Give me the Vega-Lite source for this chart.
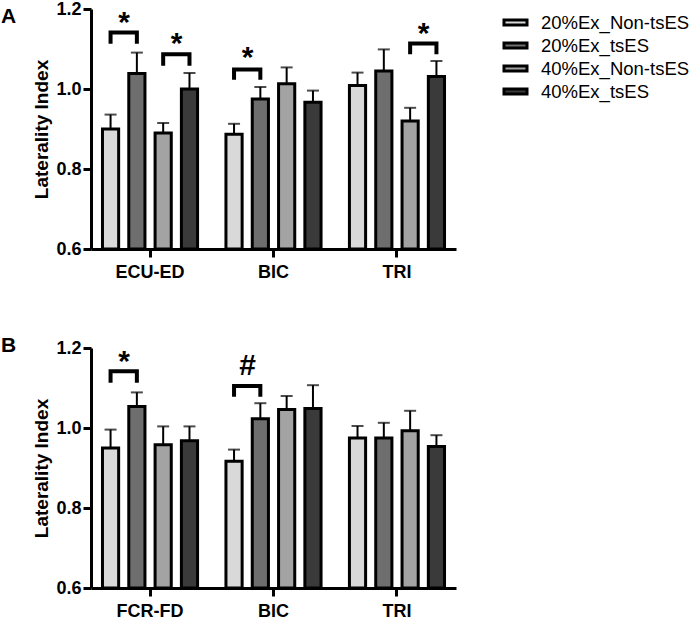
{
  "$schema": "https://vega.github.io/schema/vega-lite/v6.json",
  "padding": {"left": 0, "top": 0, "right": 5, "bottom": 5},
  "datasets": {
    "barsA": [
      {"g": "ECU-ED", "c": "20%Ex_Non-tsES", "m": 0.900, "u": 0.936},
      {"g": "ECU-ED", "c": "20%Ex_tsES", "m": 1.039, "u": 1.091},
      {"g": "ECU-ED", "c": "40%Ex_Non-tsES", "m": 0.890, "u": 0.915},
      {"g": "ECU-ED", "c": "40%Ex_tsES", "m": 1.000, "u": 1.040},
      {"g": "BIC", "c": "20%Ex_Non-tsES", "m": 0.887, "u": 0.913},
      {"g": "BIC", "c": "20%Ex_tsES", "m": 0.975, "u": 1.005},
      {"g": "BIC", "c": "40%Ex_Non-tsES", "m": 1.013, "u": 1.054},
      {"g": "BIC", "c": "40%Ex_tsES", "m": 0.967, "u": 0.996},
      {"g": "TRI", "c": "20%Ex_Non-tsES", "m": 1.009, "u": 1.041},
      {"g": "TRI", "c": "20%Ex_tsES", "m": 1.045, "u": 1.099},
      {"g": "TRI", "c": "40%Ex_Non-tsES", "m": 0.920, "u": 0.953},
      {"g": "TRI", "c": "40%Ex_tsES", "m": 1.031, "u": 1.070}
    ],
    "barsB": [
      {"g": "FCR-FD", "c": "20%Ex_Non-tsES", "m": 0.950, "u": 0.996},
      {"g": "FCR-FD", "c": "20%Ex_tsES", "m": 1.054, "u": 1.089},
      {"g": "FCR-FD", "c": "40%Ex_Non-tsES", "m": 0.958, "u": 1.004},
      {"g": "FCR-FD", "c": "40%Ex_tsES", "m": 0.968, "u": 1.004},
      {"g": "BIC", "c": "20%Ex_Non-tsES", "m": 0.917, "u": 0.946},
      {"g": "BIC", "c": "20%Ex_tsES", "m": 1.023, "u": 1.062},
      {"g": "BIC", "c": "40%Ex_Non-tsES", "m": 1.046, "u": 1.080},
      {"g": "BIC", "c": "40%Ex_tsES", "m": 1.049, "u": 1.107},
      {"g": "TRI", "c": "20%Ex_Non-tsES", "m": 0.975, "u": 1.005},
      {"g": "TRI", "c": "20%Ex_tsES", "m": 0.975, "u": 1.013},
      {"g": "TRI", "c": "40%Ex_Non-tsES", "m": 0.993, "u": 1.043},
      {"g": "TRI", "c": "40%Ex_tsES", "m": 0.954, "u": 0.982}
    ],
    "brkA": [
      {"id": 1, "k": 1, "g": "ECU-ED", "c": "20%Ex_Non-tsES", "v": 1.113},
      {"id": 1, "k": 2, "g": "ECU-ED", "c": "20%Ex_Non-tsES", "v": 1.141},
      {"id": 1, "k": 3, "g": "ECU-ED", "c": "20%Ex_tsES", "v": 1.141},
      {"id": 1, "k": 4, "g": "ECU-ED", "c": "20%Ex_tsES", "v": 1.113},
      {"id": 2, "k": 1, "g": "ECU-ED", "c": "40%Ex_Non-tsES", "v": 1.058},
      {"id": 2, "k": 2, "g": "ECU-ED", "c": "40%Ex_Non-tsES", "v": 1.087},
      {"id": 2, "k": 3, "g": "ECU-ED", "c": "40%Ex_tsES", "v": 1.087},
      {"id": 2, "k": 4, "g": "ECU-ED", "c": "40%Ex_tsES", "v": 1.058},
      {"id": 3, "k": 1, "g": "BIC", "c": "20%Ex_Non-tsES", "v": 1.023},
      {"id": 3, "k": 2, "g": "BIC", "c": "20%Ex_Non-tsES", "v": 1.049},
      {"id": 3, "k": 3, "g": "BIC", "c": "20%Ex_tsES", "v": 1.049},
      {"id": 3, "k": 4, "g": "BIC", "c": "20%Ex_tsES", "v": 1.023},
      {"id": 4, "k": 1, "g": "TRI", "c": "40%Ex_Non-tsES", "v": 1.087},
      {"id": 4, "k": 2, "g": "TRI", "c": "40%Ex_Non-tsES", "v": 1.114},
      {"id": 4, "k": 3, "g": "TRI", "c": "40%Ex_tsES", "v": 1.114},
      {"id": 4, "k": 4, "g": "TRI", "c": "40%Ex_tsES", "v": 1.087}
    ],
    "brkB": [
      {"id": 1, "k": 1, "g": "FCR-FD", "c": "20%Ex_Non-tsES", "v": 1.113},
      {"id": 1, "k": 2, "g": "FCR-FD", "c": "20%Ex_Non-tsES", "v": 1.142},
      {"id": 1, "k": 3, "g": "FCR-FD", "c": "20%Ex_tsES", "v": 1.142},
      {"id": 1, "k": 4, "g": "FCR-FD", "c": "20%Ex_tsES", "v": 1.113},
      {"id": 2, "k": 1, "g": "BIC", "c": "20%Ex_Non-tsES", "v": 1.078},
      {"id": 2, "k": 2, "g": "BIC", "c": "20%Ex_Non-tsES", "v": 1.105},
      {"id": 2, "k": 3, "g": "BIC", "c": "20%Ex_tsES", "v": 1.105},
      {"id": 2, "k": 4, "g": "BIC", "c": "20%Ex_tsES", "v": 1.078}
    ],
    "labA": [
      {"g": "ECU-ED", "c": "20%Ex_Non-tsES", "v": 1.142, "t": "*"},
      {"g": "ECU-ED", "c": "40%Ex_Non-tsES", "v": 1.089, "t": "*"},
      {"g": "BIC", "c": "20%Ex_Non-tsES", "v": 1.054, "t": "*"},
      {"g": "TRI", "c": "40%Ex_Non-tsES", "v": 1.116, "t": "*"}
    ],
    "labB": [
      {"g": "FCR-FD", "c": "20%Ex_Non-tsES", "v": 1.142, "t": "*"},
      {"g": "BIC", "c": "20%Ex_Non-tsES", "v": 1.132, "t": "#"}
    ]
  },
  "spacing": 54,
  "vconcat": [
    {
      "width": 365,
      "height": 240,
      "title": {"text": "A", "anchor": "start", "frame": "bounds", "fontSize": 21, "fontWeight": "bold", "color": "black", "offset": -27, "dx": -32},
      "layer": [
        {
          "data": {"name": "barsA"},
          "mark": {"type": "bar", "stroke": "black", "strokeWidth": 3},
          "encoding": {
            "x": {"field": "g", "type": "nominal", "title": null,
                  "scale": {"domain": ["ECU-ED", "BIC", "TRI"], "paddingInner": 0.2, "paddingOuter": 0.078},
                  "axis": {"labelAngle": 0}},
            "xOffset": {"field": "c", "type": "nominal",
                  "scale": {"domain": ["20%Ex_Non-tsES", "20%Ex_tsES", "40%Ex_Non-tsES", "40%Ex_tsES"], "paddingInner": 0.385, "paddingOuter": 0.07}},
            "y": {"field": "m", "type": "quantitative", "title": "Laterality Index",
                  "scale": {"domain": [0.6, 1.2], "zero": false, "nice": false},
                  "axis": {"values": [0.6, 0.8, 1.0, 1.2], "format": ".1f"}},
            "y2": {"datum": 0.6},
            "color": {"field": "c", "type": "nominal",
                  "scale": {"domain": ["20%Ex_Non-tsES", "20%Ex_tsES", "40%Ex_Non-tsES", "40%Ex_tsES"], "range": ["#d9d9d9", "#6e6e6e", "#a3a3a3", "#3a3a3a"]},
                  "legend": {"title": null, "offset": 46}}
          }
        },
        {
          "data": {"name": "barsA"},
          "mark": {"type": "rule", "color": "black", "strokeWidth": 2},
          "encoding": {
            "x": {"field": "g", "type": "nominal"},
            "xOffset": {"field": "c", "type": "nominal"},
            "y": {"field": "m", "type": "quantitative", "title": "Laterality Index"},
            "y2": {"field": "u"}
          }
        },
        {
          "data": {"name": "barsA"},
          "mark": {"type": "tick", "color": "black", "size": 12, "thickness": 2},
          "encoding": {
            "x": {"field": "g", "type": "nominal"},
            "xOffset": {"field": "c", "type": "nominal"},
            "y": {"field": "u", "type": "quantitative", "title": "Laterality Index"}
          }
        },
        {
          "data": {"name": "brkA"},
          "mark": {"type": "line", "color": "black", "strokeWidth": 4, "strokeJoin": "miter"},
          "encoding": {
            "x": {"field": "g", "type": "nominal"},
            "xOffset": {"field": "c", "type": "nominal"},
            "y": {"field": "v", "type": "quantitative", "title": "Laterality Index"},
            "detail": {"field": "id"},
            "order": {"field": "k"}
          }
        },
        {
          "data": {"name": "labA"},
          "mark": {"type": "text", "color": "black", "fontSize": 30, "fontWeight": "bold", "baseline": "alphabetic", "dx": 13.5},
          "encoding": {
            "x": {"field": "g", "type": "nominal"},
            "xOffset": {"field": "c", "type": "nominal"},
            "y": {"field": "v", "type": "quantitative", "title": "Laterality Index"},
            "text": {"field": "t"}
          }
        }
      ]
    },
    {
      "width": 365,
      "height": 240,
      "title": {"text": "B", "anchor": "start", "frame": "bounds", "fontSize": 21, "fontWeight": "bold", "color": "black", "offset": -17, "dx": -32},
      "layer": [
        {
          "data": {"name": "barsB"},
          "mark": {"type": "bar", "stroke": "black", "strokeWidth": 3},
          "encoding": {
            "x": {"field": "g", "type": "nominal", "title": null,
                  "scale": {"domain": ["FCR-FD", "BIC", "TRI"], "paddingInner": 0.2, "paddingOuter": 0.078},
                  "axis": {"labelAngle": 0}},
            "xOffset": {"field": "c", "type": "nominal",
                  "scale": {"domain": ["20%Ex_Non-tsES", "20%Ex_tsES", "40%Ex_Non-tsES", "40%Ex_tsES"], "paddingInner": 0.385, "paddingOuter": 0.07}},
            "y": {"field": "m", "type": "quantitative", "title": "Laterality Index",
                  "scale": {"domain": [0.6, 1.2], "zero": false, "nice": false},
                  "axis": {"values": [0.6, 0.8, 1.0, 1.2], "format": ".1f"}},
            "y2": {"datum": 0.6},
            "color": {"field": "c", "type": "nominal",
                  "scale": {"domain": ["20%Ex_Non-tsES", "20%Ex_tsES", "40%Ex_Non-tsES", "40%Ex_tsES"], "range": ["#d9d9d9", "#6e6e6e", "#a3a3a3", "#3a3a3a"]},
                  "legend": {"title": null, "offset": 40}}
          }
        },
        {
          "data": {"name": "barsB"},
          "mark": {"type": "rule", "color": "black", "strokeWidth": 2},
          "encoding": {
            "x": {"field": "g", "type": "nominal"},
            "xOffset": {"field": "c", "type": "nominal"},
            "y": {"field": "m", "type": "quantitative", "title": "Laterality Index"},
            "y2": {"field": "u"}
          }
        },
        {
          "data": {"name": "barsB"},
          "mark": {"type": "tick", "color": "black", "size": 12, "thickness": 2},
          "encoding": {
            "x": {"field": "g", "type": "nominal"},
            "xOffset": {"field": "c", "type": "nominal"},
            "y": {"field": "u", "type": "quantitative", "title": "Laterality Index"}
          }
        },
        {
          "data": {"name": "brkB"},
          "mark": {"type": "line", "color": "black", "strokeWidth": 4, "strokeJoin": "miter"},
          "encoding": {
            "x": {"field": "g", "type": "nominal"},
            "xOffset": {"field": "c", "type": "nominal"},
            "y": {"field": "v", "type": "quantitative", "title": "Laterality Index"},
            "detail": {"field": "id"},
            "order": {"field": "k"}
          }
        },
        {
          "data": {"name": "labB"},
          "mark": {"type": "text", "color": "black", "fontSize": 30, "fontWeight": "bold", "baseline": "alphabetic", "dx": 13.5},
          "encoding": {
            "x": {"field": "g", "type": "nominal"},
            "xOffset": {"field": "c", "type": "nominal"},
            "y": {"field": "v", "type": "quantitative", "title": "Laterality Index"},
            "text": {"field": "t"}
          }
        }
      ]
    }
  ],
  "config": {
    "font": "Liberation Sans",
    "view": {"stroke": null},
    "axis": {
      "grid": false,
      "domainColor": "black",
      "domainWidth": 3,
      "tickColor": "black",
      "tickWidth": 3,
      "tickSize": 8,
      "labelColor": "black",
      "labelFontSize": 18,
      "labelFontWeight": "bold",
      "titleColor": "black",
      "titleFontSize": 19,
      "titleFontWeight": "bold"
    },
    "axisX": {"labelPadding": 6},
    "axisY": {"labelPadding": 2, "titlePadding": 4},
    "legend": {
      "labelFontSize": 18.5,
      "labelColor": "black",
      "labelOffset": 12,
      "rowPadding": 0,
      "symbolType": "M-1,-0.22H1V0.22H-1Z",
      "symbolSize": 530,
      "symbolStrokeWidth": 3,
      "symbolStrokeColor": "black"
    }
  }
}
